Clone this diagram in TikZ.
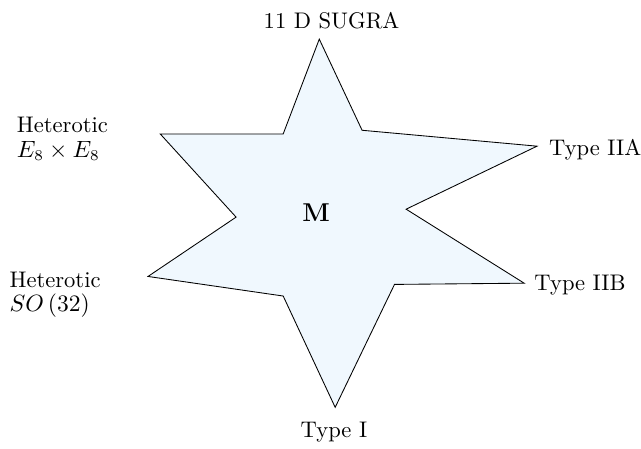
\documentclass[tikz,border=0pt]{standalone}
\usepackage{amsmath,amssymb}
\usepackage{tikz}
\usetikzlibrary{positioning, calc}
\definecolor{mfill}{RGB}{240,248,254}
\tikzset{
    mstar/.style={draw=black, fill=mfill, line join=miter},
    theory/.style={inner sep=0pt, align=left, font=\fontsize{10.5}{11.4}\selectfont}
}

\begin{document}
\begin{tikzpicture}
        \useasboundingbox (-5.17, -3.87) rectangle (5.31, 3.47);
        % The star
        \draw[mstar] (0.05, 2.83) -- (0.75, 1.34) -- (3.61, 1.08) -- (1.47, 0.05)
            -- (3.40, -1.16) -- (1.28, -1.18) -- (0.31, -3.19) -- (-0.54, -1.37)
            -- (-2.75, -1.05) -- (-1.31, -0.08) -- (-2.55, 1.28) -- (-0.54, 1.28) -- cycle;

        % Centre
        \node (m) at (0, 0) {\large$\mathbf{M}$};

        % Limits
        \node (sugra) [theory, anchor=base] at (0.25, 3.01) {11 D SUGRA};
        \node (iia) [theory, anchor=base west] at (3.80, 0.93) {Type IIA};
        \node (iib) [theory, anchor=base west] at (3.56, -1.28) {Type IIB};
        \node (typei) [theory, anchor=base] at (0.29, -3.68) {Type I};
        \node (hete) [theory, anchor=north west] at (-4.90, 1.56) {Heterotic\\$E_8\times E_8$};
        \node (heto) [theory, anchor=north west] at (-5.02, -0.97) {Heterotic\\$SO\left(32\right)$};
    \end{tikzpicture}
\end{document}
